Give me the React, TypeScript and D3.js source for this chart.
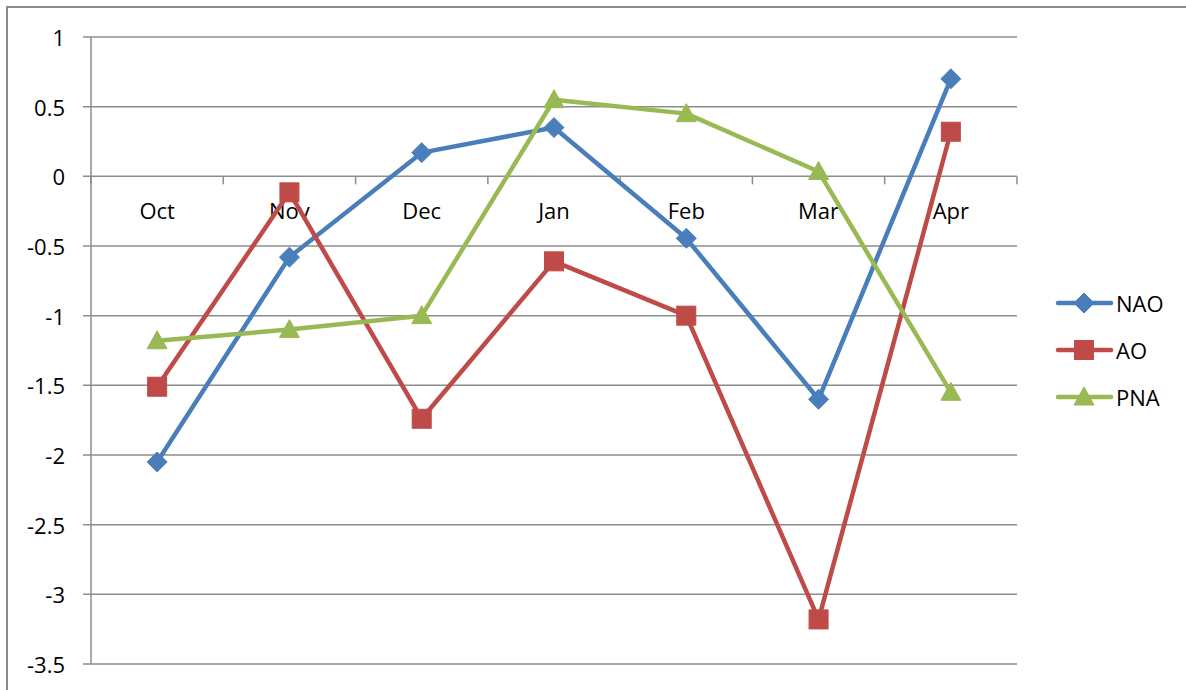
import React from "react";
import * as d3 from "d3";

const categories = ["Oct", "Nov", "Dec", "Jan", "Feb", "Mar", "Apr"];
const naoValues = [-2.05, -0.58, 0.17, 0.35, -0.445, -1.6, 0.7];
const aoValues = [-1.51, -0.115, -1.74, -0.61, -1.0, -3.18, 0.32];
const pnaValues = [-1.18, -1.1, -1.0, 0.55, 0.45, 0.035, -1.55];
const yTicks = [1, 0.5, 0, -0.5, -1, -1.5, -2, -2.5, -3, -3.5];

const series = [
  { name: "NAO", values: naoValues, color: "#4a7ebb", marker: "diamond" },
  { name: "AO", values: aoValues, color: "#be4b48", marker: "square" },
  { name: "PNA", values: pnaValues, color: "#98b954", marker: "triangle" },
];

const W = 1186;
const H = 690;
const left = 91;
const right = 1017;
const top = 37;
const bottom = 664;
const font = "'Open Sans', 'Liberation Sans', sans-serif";
const fs = 22;

function Marker({ type, x, y, color }: { type: string; x: number; y: number; color: string }) {
  if (type === "diamond") {
    const s = 10;
    return (
      <path
        d={`M${x},${y - s}L${x + s},${y}L${x},${y + s}L${x - s},${y}Z`}
        fill={color}
        stroke={color}
        strokeWidth={1}
        strokeLinejoin="round"
      />
    );
  }
  if (type === "square") {
    const s = 9.5;
    return <rect x={x - s} y={y - s} width={2 * s} height={2 * s} fill={color} stroke={color} strokeWidth={1} />;
  }
  const s = 10;
  return (
    <path
      d={`M${x},${y - s}L${x + s},${y + s * 0.8}L${x - s},${y + s * 0.8}Z`}
      fill={color}
      stroke={color}
      strokeWidth={1}
      strokeLinejoin="round"
    />
  );
}

export default function App() {
  const x = d3.scaleBand<string>().domain(categories).range([left, right]);
  const y = d3.scaleLinear().domain([-3.5, 1]).range([bottom, top]);
  const cx = (c: string) => (x(c) as number) + x.bandwidth() / 2;
  const line = d3
    .line<number>()
    .x((_, i) => cx(categories[i]))
    .y((v) => y(v));
  const boundaries = d3.range(categories.length + 1).map((i) => left + i * x.step());

  return (
    <svg width={W} height={H} style={{ position: "absolute", left: 0, top: 0, background: "#fff" }}>
      <rect x={0} y={0} width={W} height={H} fill="#fff" />
      <rect x={7} y={7} width={W + 20} height={H + 20} fill="none" stroke="#8c8c8c" strokeWidth={2} />
      {yTicks.map((t) => (
        <g key={t}>
          <line x1={left - 8} x2={right} y1={y(t)} y2={y(t)} stroke="#8c8c8c" strokeWidth={1.5} />
          <text
            x={65}
            y={y(t)}
            textAnchor="end"
            dominantBaseline="central"
            fontFamily={font}
            fontSize={fs}
            fill="#000"
          >
            {t}
          </text>
        </g>
      ))}
      <line x1={left} x2={left} y1={top} y2={bottom} stroke="#8c8c8c" strokeWidth={1.5} />
      {boundaries.map((b, i) => (
        <line key={i} x1={b} x2={b} y1={y(0)} y2={y(0) + 8} stroke="#8c8c8c" strokeWidth={1.5} />
      ))}
      {categories.map((c) => (
        <text
          key={c}
          x={cx(c)}
          y={y(0) + 34}
          textAnchor="middle"
          dominantBaseline="central"
          fontFamily={font}
          fontSize={fs}
          fill="#000"
        >
          {c}
        </text>
      ))}
      {series.map((s) => (
        <g key={s.name}>
          <path d={line(s.values) || ""} fill="none" stroke={s.color} strokeWidth={4.5} strokeLinejoin="round" />
          {s.values.map((v, i) => (
            <Marker key={i} type={s.marker} x={cx(categories[i])} y={y(v)} color={s.color} />
          ))}
        </g>
      ))}
      {series.map((s, i) => {
        const ly = 303 + i * 47;
        return (
          <g key={s.name}>
            <line x1={1058} x2={1111} y1={ly} y2={ly} stroke={s.color} strokeWidth={4.5} strokeLinecap="round" />
            <Marker type={s.marker} x={1084} y={ly} color={s.color} />
            <text x={1116} y={ly} dominantBaseline="central" fontFamily={font} fontSize={fs} fill="#000">
              {s.name}
            </text>
          </g>
        );
      })}
    </svg>
  );
}
